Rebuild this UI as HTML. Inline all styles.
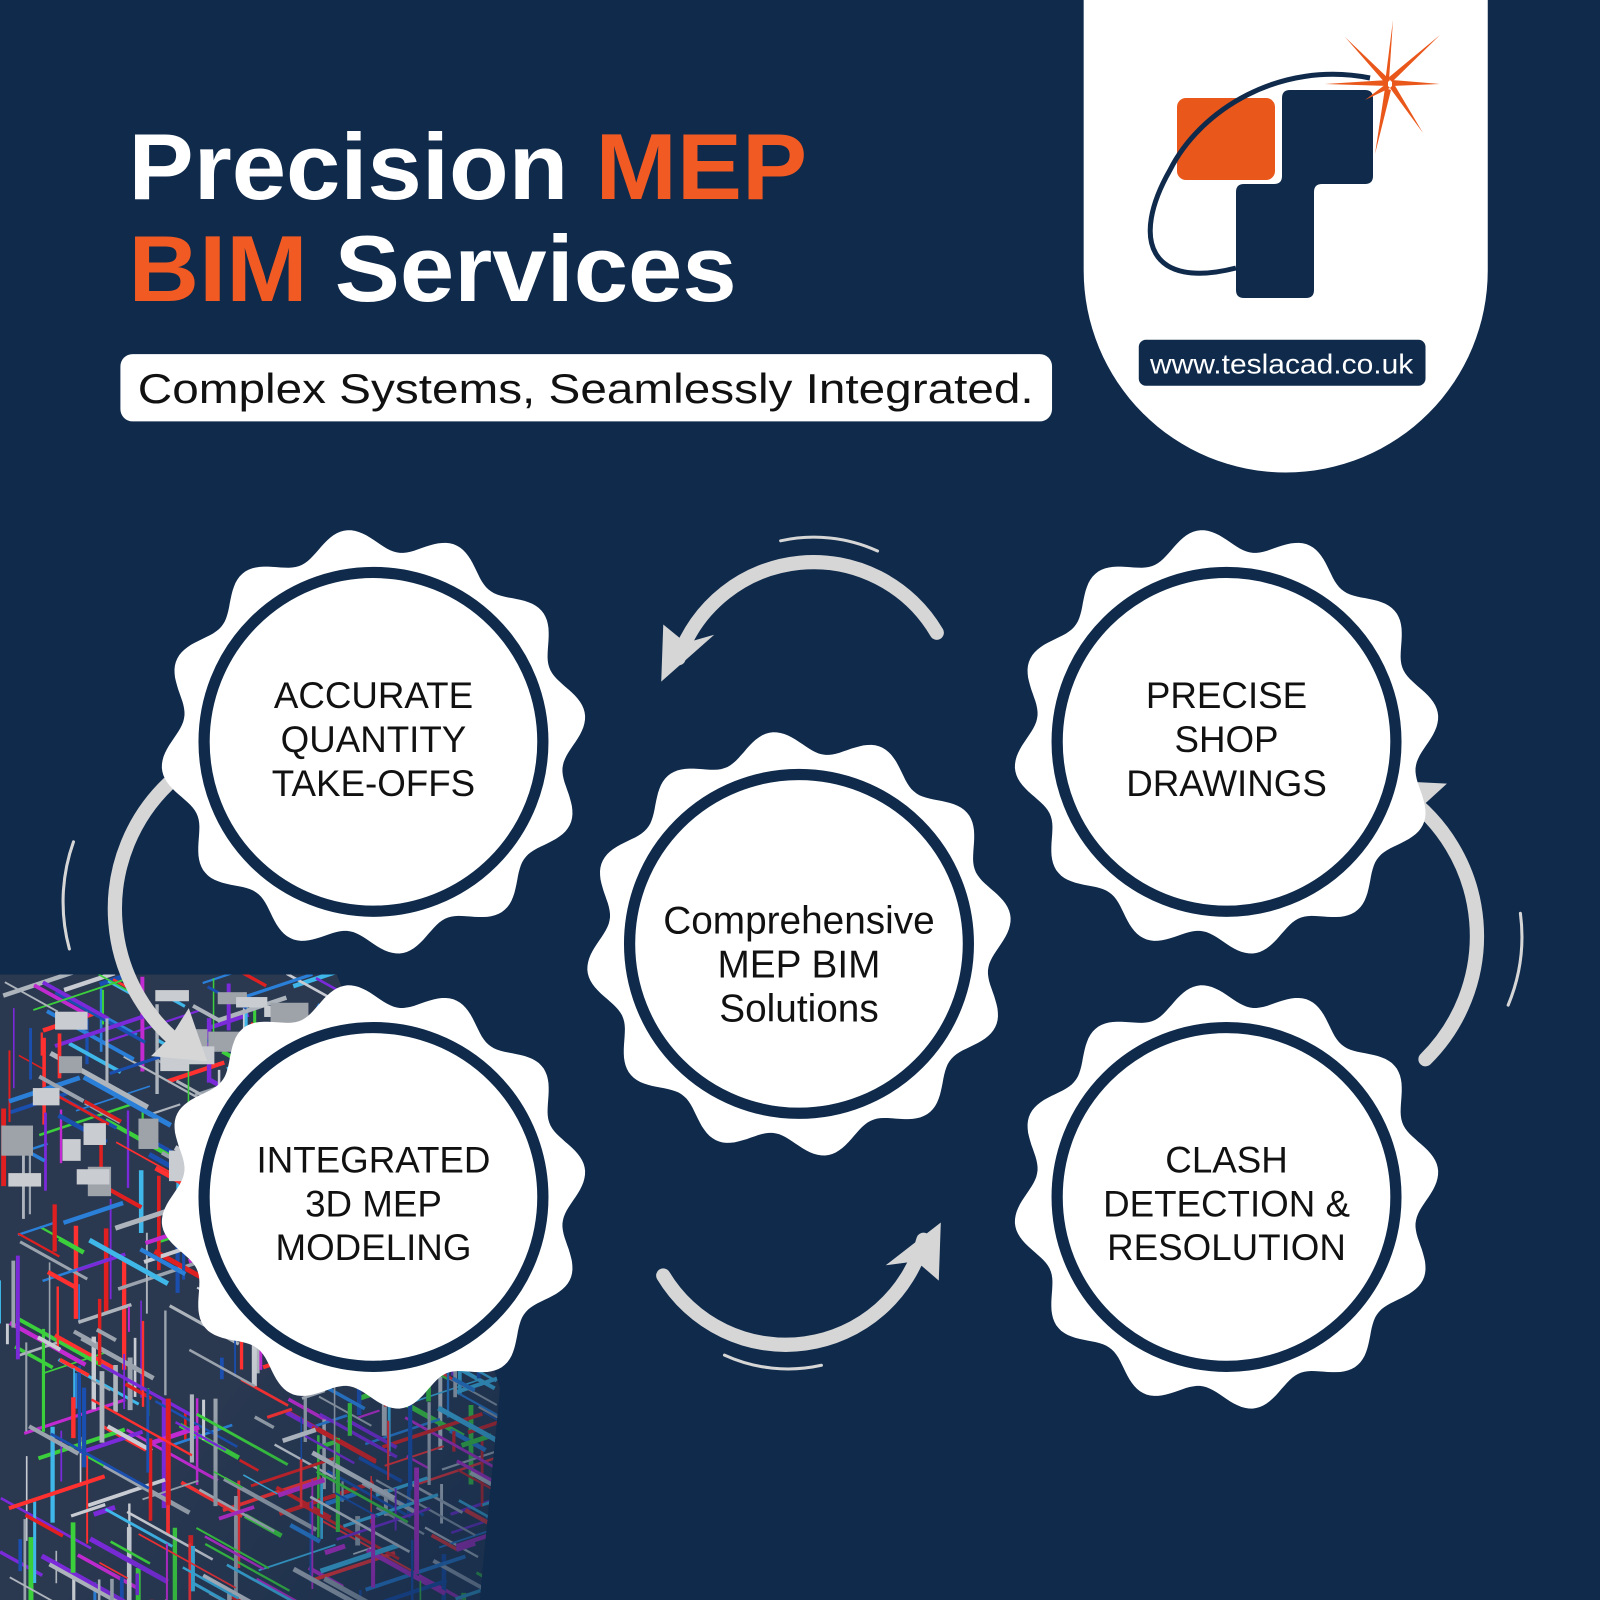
<!DOCTYPE html>
<html><head><meta charset="utf-8"><style>
html,body{margin:0;padding:0;background:#0f2a4b;width:1600px;height:1600px;overflow:hidden;}
svg{display:block}
text{font-family:"Liberation Sans",sans-serif;}
</style></head><body>
<svg id="s" width="1600" height="1600" viewBox="0 0 1568 1568" xmlns="http://www.w3.org/2000/svg">
<rect width="1568" height="1568" fill="#0f2a4b"/>
<defs>
<clipPath id="cp"><polygon points="0,955 330,955 470,1300 490,1360 470,1568 0,1568"/></clipPath>
<linearGradient id="fade" x1="0" y1="0" x2="1" y2="1">
 <stop offset="0.55" stop-color="#0f2a4b" stop-opacity="0"/>
 <stop offset="1" stop-color="#0f2a4b" stop-opacity="0.7"/>
</linearGradient>
</defs>
<g id="render" clip-path="url(#cp)"></g>
<rect x="0" y="950" width="500" height="620" fill="url(#fade)" clip-path="url(#cp)"/>

<!-- Title -->
<text x="126" y="195" font-size="92" font-weight="bold" fill="#fff" textLength="665" lengthAdjust="spacingAndGlyphs">Precision <tspan fill="#f15a22">MEP</tspan></text>
<text x="126" y="295" font-size="92" font-weight="bold" fill="#f15a22" textLength="596" lengthAdjust="spacingAndGlyphs">BIM <tspan fill="#fff">Services</tspan></text>
<rect x="118" y="347" width="913" height="66" rx="12" fill="#fff"/>
<text x="135" y="395" font-size="41" fill="#111" textLength="878" lengthAdjust="spacingAndGlyphs">Complex Systems, Seamlessly Integrated.</text>

<!-- Logo panel -->
<path d="M1062,0 H1458 V265 A198,198 0 0 1 1062,265 Z" fill="#fff"/>
<g transform="scale(0.98)">
 <rect x="1177" y="98" width="98" height="82" rx="9" fill="#ea571b"/>
 <path d="M1290,90 H1365 Q1373,90 1373,98 V176 Q1373,184 1365,184 H1322 Q1314,184 1314,192 V290 Q1314,298 1306,298 H1244 Q1236,298 1236,290 V192 Q1236,184 1244,184 H1274 Q1282,184 1282,176 V98 Q1282,90 1290,90 Z" fill="#0f2a4b"/>
 <path d="M1370,78 C1280,60 1200,110 1170,170 C1130,240 1150,290 1236,268" fill="none" stroke="#0f2a4b" stroke-width="5"/>
 <g fill="#ea571b">
  <polygon points="1393,20 1389,80 1385,83"/>
  <polygon points="1440,35 1392,82 1388,78"/>
  <polygon points="1440,84 1392,86 1392,80"/>
  <polygon points="1423,133 1390,88 1394,84"/>
  <polygon points="1375,154 1385,88 1391,90"/>
  <polygon points="1345,37 1390,80 1386,84"/>
  <polygon points="1325,84 1388,80 1388,86"/>
  <polygon points="1365,100 1386,84 1390,88"/>
 </g>
</g>
<rect x="1116" y="333" width="281" height="45" rx="7" fill="#0f2a4b"/>
<text x="1256" y="366" font-size="27" fill="#fff" text-anchor="middle" textLength="258" lengthAdjust="spacingAndGlyphs">www.teslacad.co.uk</text>

<!-- arrows -->
<g fill="none" stroke="#d6d6d6" stroke-width="14" stroke-linecap="round">
 <path d="M918,620 A140,140 0 0 0 665,645"/>
 <path d="M650,1250 A140,140 0 0 0 905,1215"/>
 <path d="M165,768 A170,170 0 0 0 185,1030"/>
 <path d="M1397,1038 A170,170 0 0 0 1375,778"/>
</g>
<g fill="none" stroke="#d6d6d6" stroke-width="3" stroke-linecap="round">
 <path d="M765,530 A150,150 0 0 1 860,540"/>
 <path d="M710,1328 A150,150 0 0 0 805,1338"/>
 <path d="M72,825 A175,175 0 0 0 68,930"/>
 <path d="M1490,895 A175,175 0 0 1 1478,985"/>
</g>
<g fill="#d6d6d6">
 <polygon points="648,668 650,612 672,630 700,622"/>
 <polygon points="922,1198 920,1255 898,1236 868,1240"/>
 <polygon points="203,1040 148,1035 168,1015 185,988"/>
 <polygon points="1360,765 1418,768 1396,788 1382,815"/>
</g>

<g id="badges"></g>
</svg>
<script>
(function(){
var NS="http://www.w3.org/2000/svg";
var seed=7;function r(){seed=(seed*16807)%2147483647;return seed/2147483647;}
var g=document.getElementById("render");
var cols=["#e02020","#2a7fd8","#c02ad0","#3fb7e8","#9aa3ad","#c8ccd2","#1a4fb0","#ff3030","#7a2ad8","#aeb4bc","#3ccf3c"];
var bg=document.createElementNS(NS,"rect");bg.setAttribute("x",0);bg.setAttribute("y",950);bg.setAttribute("width",500);bg.setAttribute("height",620);bg.setAttribute("fill","#2a3850");g.appendChild(bg);
for(var i=0;i<650;i++){
 var x=r()*500,y=950+r()*620;var l=20+r()*90;var d=r();
 var x2,y2; if(d<0.4){x2=x+l*0.9;y2=y+l*0.5;}else if(d<0.75){x2=x;y2=y+l;}else{x2=x+l*0.9;y2=y-l*0.3;}
 var ln=document.createElementNS(NS,"line");
 ln.setAttribute("x1",x);ln.setAttribute("y1",y);ln.setAttribute("x2",x2);ln.setAttribute("y2",y2);
 ln.setAttribute("stroke",cols[Math.floor(r()*cols.length)]);ln.setAttribute("stroke-width",1.5+r()*3.5);
 g.appendChild(ln);
}
for(var i=0;i<30;i++){var rc=document.createElementNS(NS,"rect");rc.setAttribute("x",r()*300);rc.setAttribute("y",970+r()*180);rc.setAttribute("width",15+r()*25);rc.setAttribute("height",10+r()*20);rc.setAttribute("fill",r()<0.5?"#9ea3aa":"#c9ccd0");g.appendChild(rc);}
var b=document.getElementById("badges");
var data=[[366,727,["ACCURATE","QUANTITY","TAKE-OFFS"],36,-46],[1202,727,["PRECISE","SHOP","DRAWINGS"],36,-46],[783,925,["Comprehensive","MEP BIM","Solutions"],38,-23],[366,1173,["INTEGRATED","3D MEP","MODELING"],36,-37],[1202,1173,["CLASH","DETECTION &","RESOLUTION"],36,-37]];
data.forEach(function(d){
 var cx=d[0],cy=d[1],p="";
 for(var k=0;k<=360;k++){var a=k*Math.PI/180;var rr=198+11*Math.cos(12*a+Math.PI/2);p+=(k?"L":"M")+(cx+rr*Math.cos(a)).toFixed(1)+","+(cy+rr*Math.sin(a)).toFixed(1);}
 var pa=document.createElementNS(NS,"path");pa.setAttribute("d",p+"Z");pa.setAttribute("fill","#fff");b.appendChild(pa);
 var c=document.createElementNS(NS,"circle");c.setAttribute("cx",cx);c.setAttribute("cy",cy);c.setAttribute("r",166);c.setAttribute("fill","#fff");c.setAttribute("stroke","#0f2a4b");c.setAttribute("stroke-width",11);b.appendChild(c);
 d[2].forEach(function(t,j){var tx=document.createElementNS(NS,"text");tx.setAttribute("x",cx);tx.setAttribute("y",cy+d[4]+13+j*43);tx.setAttribute("text-anchor","middle");tx.setAttribute("font-size",d[3]);tx.setAttribute("fill","#111");tx.textContent=t;b.appendChild(tx);});
});
})();
</script>
</body></html>
